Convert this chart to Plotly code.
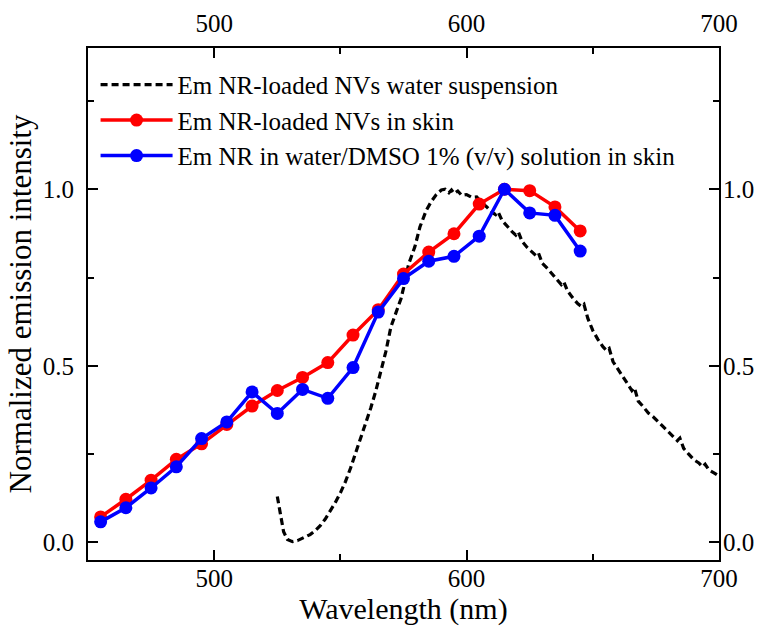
import plotly.graph_objects as go

# ---- data ----
skin_wl = [455, 465, 475, 485, 495, 505, 515, 525, 535, 545, 555, 565, 575, 585, 595, 605, 615, 625, 635, 645]
nvs_skin = [0.072, 0.122, 0.176, 0.235, 0.279, 0.334, 0.386, 0.430, 0.467, 0.509, 0.587, 0.659, 0.760, 0.822, 0.874, 0.958, 1.000, 0.996, 0.950, 0.882]
dmso_skin = [0.058, 0.098, 0.154, 0.214, 0.294, 0.341, 0.426, 0.365, 0.433, 0.408, 0.495, 0.652, 0.747, 0.796, 0.810, 0.867, 1.000, 0.933, 0.926, 0.825]

susp_wl = [525.0, 526.0, 527.5, 529.0, 531.0, 533.0, 535.0, 538.0, 540.0, 542.0, 544.0, 546.0, 548.0,
           550.0, 552.0, 554.0, 556.0, 558.0, 560.0, 562.0, 564.0, 566.0, 568.0, 570.0, 572.0, 574.0,
           575.0, 577.0, 579.5, 581.5, 584.0, 586.0, 588.0, 590.0, 591.5, 593.0, 594.0, 595.0, 596.5,
           598.0, 600.0, 602.0, 604.0, 606.0, 608.0, 610.0, 611.5, 612.5, 614.0, 616.0, 618.0, 619.5,
           620.5, 622.0, 624.0, 626.0, 627.5, 628.5, 630.0, 632.0, 634.0, 636.0, 637.5, 638.5, 640.0,
           642.0, 644.0, 645.5, 646.5, 648.0, 650.0, 652.0, 654.0, 655.5, 656.5, 658.0, 660.0, 662.0,
           664.0, 665.5, 666.5, 668.0, 670.0, 672.0, 674.0, 676.0, 678.0, 680.0, 682.0, 683.5, 684.5,
           686.0, 688.0, 690.0, 692.0, 693.5, 694.5, 696.0, 698.0, 700.0]
susp_val = [0.130, 0.090, 0.030, 0.008, 0.002, 0.005, 0.012, 0.022, 0.033, 0.047, 0.066, 0.088, 0.113,
            0.140, 0.172, 0.210, 0.252, 0.296, 0.338, 0.380, 0.428, 0.480, 0.540, 0.610, 0.652, 0.690,
            0.720, 0.787, 0.837, 0.893, 0.940, 0.965, 0.985, 0.998, 1.000, 0.990, 0.998, 0.988, 0.995,
            0.983, 0.985, 0.977, 0.978, 0.962, 0.950, 0.935, 0.928, 0.936, 0.912, 0.895, 0.880, 0.870,
            0.879, 0.852, 0.835, 0.822, 0.812, 0.819, 0.790, 0.776, 0.760, 0.745, 0.730, 0.738, 0.712,
            0.693, 0.676, 0.668, 0.674, 0.635, 0.600, 0.575, 0.554, 0.543, 0.549, 0.512, 0.490, 0.466,
            0.445, 0.430, 0.438, 0.400, 0.384, 0.366, 0.355, 0.341, 0.328, 0.312, 0.298, 0.288, 0.295,
            0.266, 0.250, 0.234, 0.225, 0.214, 0.221, 0.205, 0.197, 0.188]

x_ticks = [500, 600, 700]
y_ticks = [0.0, 0.5, 1.0]
y_tick_text = ["0.0", "0.5", "1.0"]

FONT = "Liberation Serif"

fig = go.Figure()
fig.add_trace(go.Scatter(
    x=susp_wl, y=susp_val, mode="lines", name="Em NR-loaded NVs water suspension",
    line=dict(color="black", width=3.2, dash="7px,4px"), legendgroup="a"))
fig.add_trace(go.Scatter(
    x=skin_wl, y=nvs_skin, mode="lines+markers", name="Em NR-loaded NVs in skin",
    line=dict(color="#ff0000", width=3.5), marker=dict(color="#ff0000", size=13), legendgroup="b"))
fig.add_trace(go.Scatter(
    x=skin_wl, y=dmso_skin, mode="lines+markers", name="Em NR in water/DMSO 1% (v/v) solution in skin",
    line=dict(color="#0000ff", width=3.5), marker=dict(color="#0000ff", size=13), legendgroup="c"))
# invisible trace to activate the mirrored top/right axes
fig.add_trace(go.Scatter(x=skin_wl, y=nvs_skin, xaxis="x2", yaxis="y2", mode="lines",
                         line=dict(width=0), opacity=0, showlegend=False, hoverinfo="skip"))

axis_common = dict(showgrid=False, zeroline=False, showline=True, linecolor="black", linewidth=2,
                   ticks="inside", ticklen=10, tickwidth=2, tickcolor="black", automargin=False,
                   tickfont=dict(family=FONT, size=25, color="black"))

minor_x = dict(dtick=50, tick0=450, ticks="inside", ticklen=6, tickwidth=2, tickcolor="black")
minor_y = dict(dtick=0.25, tick0=0, ticks="inside", ticklen=6, tickwidth=2, tickcolor="black")

fig.update_layout(
    width=763, height=630,
    margin=dict(l=88, r=44, t=48, b=70, autoexpand=False),
    plot_bgcolor="white", paper_bgcolor="white",
    font=dict(family=FONT, color="black"),
    xaxis=dict(range=[450, 700], tickvals=x_ticks, ticktext=[str(v) for v in x_ticks], minor=minor_x,
               ticklabelstandoff=-5,
               title=dict(text="Wavelength (nm)", font=dict(family=FONT, size=30, color="black"), standoff=0),
               **axis_common),
    xaxis2=dict(range=[450, 700], overlaying="x", side="top", matches="x", ticklabelstandoff=4,
                tickvals=x_ticks, ticktext=[str(v) for v in x_ticks], minor=minor_x,
                **axis_common),
    yaxis=dict(range=[-0.05, 1.4], tickvals=y_ticks, ticktext=y_tick_text, minor=minor_y,
               ticklabelstandoff=7,
               title=dict(text="Normalized emission intensity", font=dict(family=FONT, size=31, color="black"), standoff=2),
               **axis_common),
    yaxis2=dict(range=[-0.05, 1.4], overlaying="y", side="right", matches="y",
                tickvals=y_ticks, ticktext=y_tick_text, minor=minor_y, ticklabelstandoff=-3,
                **axis_common),
    legend=dict(x=0.012, y=0.973, xanchor="left", yanchor="top", bgcolor="rgba(0,0,0,0)",
                font=dict(family=FONT, size=25, color="black"), itemwidth=72, tracegroupgap=0),
    showlegend=True,
)

fig.write_html("out.html")
